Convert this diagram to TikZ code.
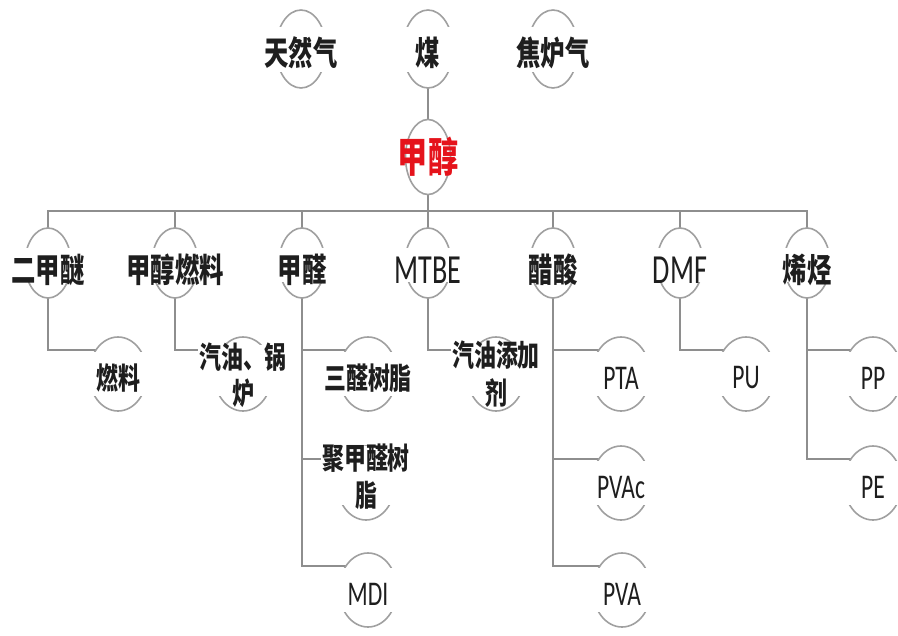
\documentclass[tikz,border=0pt]{standalone}
\usepackage{fontspec}
\usepackage{graphicx}
\setmainfont{Carlito}
\newfontfamily\cjk{Noto Sans CJK SC}
\usetikzlibrary{shapes.geometric}
\definecolor{lineg}{HTML}{8E8E8E}
\definecolor{ellg}{HTML}{A0A0A0}
\definecolor{txt}{HTML}{1E1E1E}
\definecolor{redt}{HTML}{E5131B}
\newcommand{\sq}[1]{\scalebox{0.73}[1]{#1}}
\newcommand{\sql}[1]{\scalebox{0.68}[1]{#1}}
\pgfdeclarelayer{back}
\pgfdeclarelayer{bg}
\pgfsetlayers{back,bg,main}
\tikzset{
  conn/.style={draw=lineg, line width=1.5pt, line join=miter},
  ell/.style={ellipse, draw=ellg, line width=1.2pt, inner sep=0pt, outer sep=0pt},
  topell/.style={ell, minimum width=37.5pt, minimum height=58.5pt},
  jcell/.style={ell, minimum width=33.75pt, minimum height=56.25pt},
  midell/.style={ell, minimum width=34.5pt, minimum height=52.5pt},
  kidell/.style={ell, minimum width=43.5pt, minimum height=55.5pt},
  band/.style={fill=white, inner sep=0pt, outer sep=0pt},
  cn/.style={font=\cjk\bfseries\fontsize{25}{30}\selectfont, text=txt, inner sep=0pt},
  cnk/.style={font=\cjk\bfseries\fontsize{22.5}{27}\selectfont, text=txt, inner sep=0pt},
  lt/.style={font=\fontsize{31}{35}\selectfont, text=txt, inner sep=0pt},
  ltk/.style={font=\fontsize{26}{30}\selectfont, text=txt, inner sep=0pt},
  redcn/.style={font=\cjk\bfseries\fontsize{31}{36}\selectfont, text=redt, inner sep=0pt}
}
\newcommand{\TopN}[4]{%
  \node[topell] (#1) at (#2,#3) {};
  \node[band, minimum width=40pt, minimum height=34pt] (#1-b) at (#2,#3+0.5) {};
  \node[cn] (#1-t) at (#2,#3+4) {\sq{#4}};}
\newcommand{\MidN}[4]{%
  \node[midell] (#1) at (#2,263) {};
  \node[band, minimum width=39pt, minimum height=25.5pt] (#1-b) at (#2,265) {};
  \node[#3] (#1-t) at (#2,270) {#4};}
\newcommand{\KidN}[5]{%
  \node[kidell] (#1) at (#2,#3) {};
  \node[band, minimum width=48pt, minimum height=33pt] (#1-b) at (#2,#3) {};
  \node[#4] (#1-t) at (#2,#3+4) {#5};}
\newcommand{\KidTwo}[7]{%
  \node[kidell] (#1) at (#2,#3) {};
  \node[band, minimum width=48pt, minimum height=33pt] (#1-b) at (#2,#3) {};
  \node[cnk, fill=white, inner xsep=1pt, inner ysep=-2pt] (#1-t) at (#2,#3#6) {\sq{#4}};
  \node[cnk] (#1-u) at (#2,#3#7) {\sq{#5}};}
\begin{document}
\begin{tikzpicture}[x=0.75pt, y=-0.75pt]
\begin{pgfonlayer}{back}
  \fill[white] (0,0) rectangle (898,635);
\end{pgfonlayer}
\useasboundingbox (0,0) rectangle (898,635);

% top row
\TopN{trq}{301}{49}{天然气}
\TopN{mei}{428}{49}{煤}
\TopN{jlq}{553}{49}{焦炉气}

% methanol
\node[jcell] (jc) at (428,157) {};
\node[redcn] (jc-t) at (428,157) {\sq{甲醇}};

% second row
\MidN{ejm}{48}{cn}{\sq{二甲醚}}
\MidN{jcrl}{175}{cn}{\sq{甲醇燃料}}
\MidN{jq}{302}{cn}{\sq{甲醛}}
\MidN{mtbe}{428}{lt}{\sql{MTBE}}
\MidN{cs}{553}{cn}{\sq{醋酸}}
\MidN{dmf}{680}{lt}{\sql{DMF}}
\MidN{xt}{807}{cn}{\sq{烯烃}}

% children
\KidN{rl}{118}{374}{cnk}{\sq{燃料}}
\KidTwo{qygl}{243}{374}{汽油、锅}{炉}{-17}{+19}
\KidN{szsz}{368}{374}{cnk}{\sq{三醛树脂}}
\KidTwo{jqsz}{366}{483}{聚甲醛树}{脂}{-25}{+12}
\KidN{mdi}{368}{590}{ltk}{\sql{MDI}}
\KidTwo{qytj}{496}{374}{汽油添加}{剂}{-19}{+19}
\KidN{pta}{621}{374}{ltk}{\sql{PTA}}
\KidN{pvac}{621}{483}{ltk}{\sql{PVAc}}
\KidN{pva}{622}{590}{ltk}{\sql{PVA}}
\KidN{pu}{746}{374}{ltk}{\sql{PU}}
\KidN{pp}{873}{374}{ltk}{\sql{PP}}
\KidN{pe}{873}{483}{ltk}{\sql{PE}}

\begin{pgfonlayer}{bg}
  \coordinate (busl) at (48,211);
  \draw[conn] (mei.south) -- (jc.north);
  \draw[conn] (jc.south) -- (jc.south |- busl);
  \draw[conn] (ejm.north) -- (ejm.north |- busl) -- (xt.north |- busl) -- (xt.north);
  \foreach \n in {jcrl,jq,mtbe,cs,dmf}
    \draw[conn] (\n.north) -- (\n.north |- busl);
  \draw[conn] (ejm.south) |- (rl.132);
  \draw[conn] (jcrl.south) |- (qygl.132);
  \draw[conn] (jq.south) |- (szsz.132);
  \draw[conn] (jq.south) |- (jqsz.132);
  \draw[conn] (jq.south) |- (mdi.132);
  \draw[conn] (mtbe.south) |- (qytj.132);
  \draw[conn] (cs.south) |- (pta.132);
  \draw[conn] (cs.south) |- (pvac.132);
  \draw[conn] (cs.south) |- (pva.132);
  \draw[conn] (dmf.south) |- (pu.132);
  \draw[conn] (xt.south) |- (pp.132);
  \draw[conn] (xt.south) |- (pe.132);
\end{pgfonlayer}
\end{tikzpicture}
\end{document}
